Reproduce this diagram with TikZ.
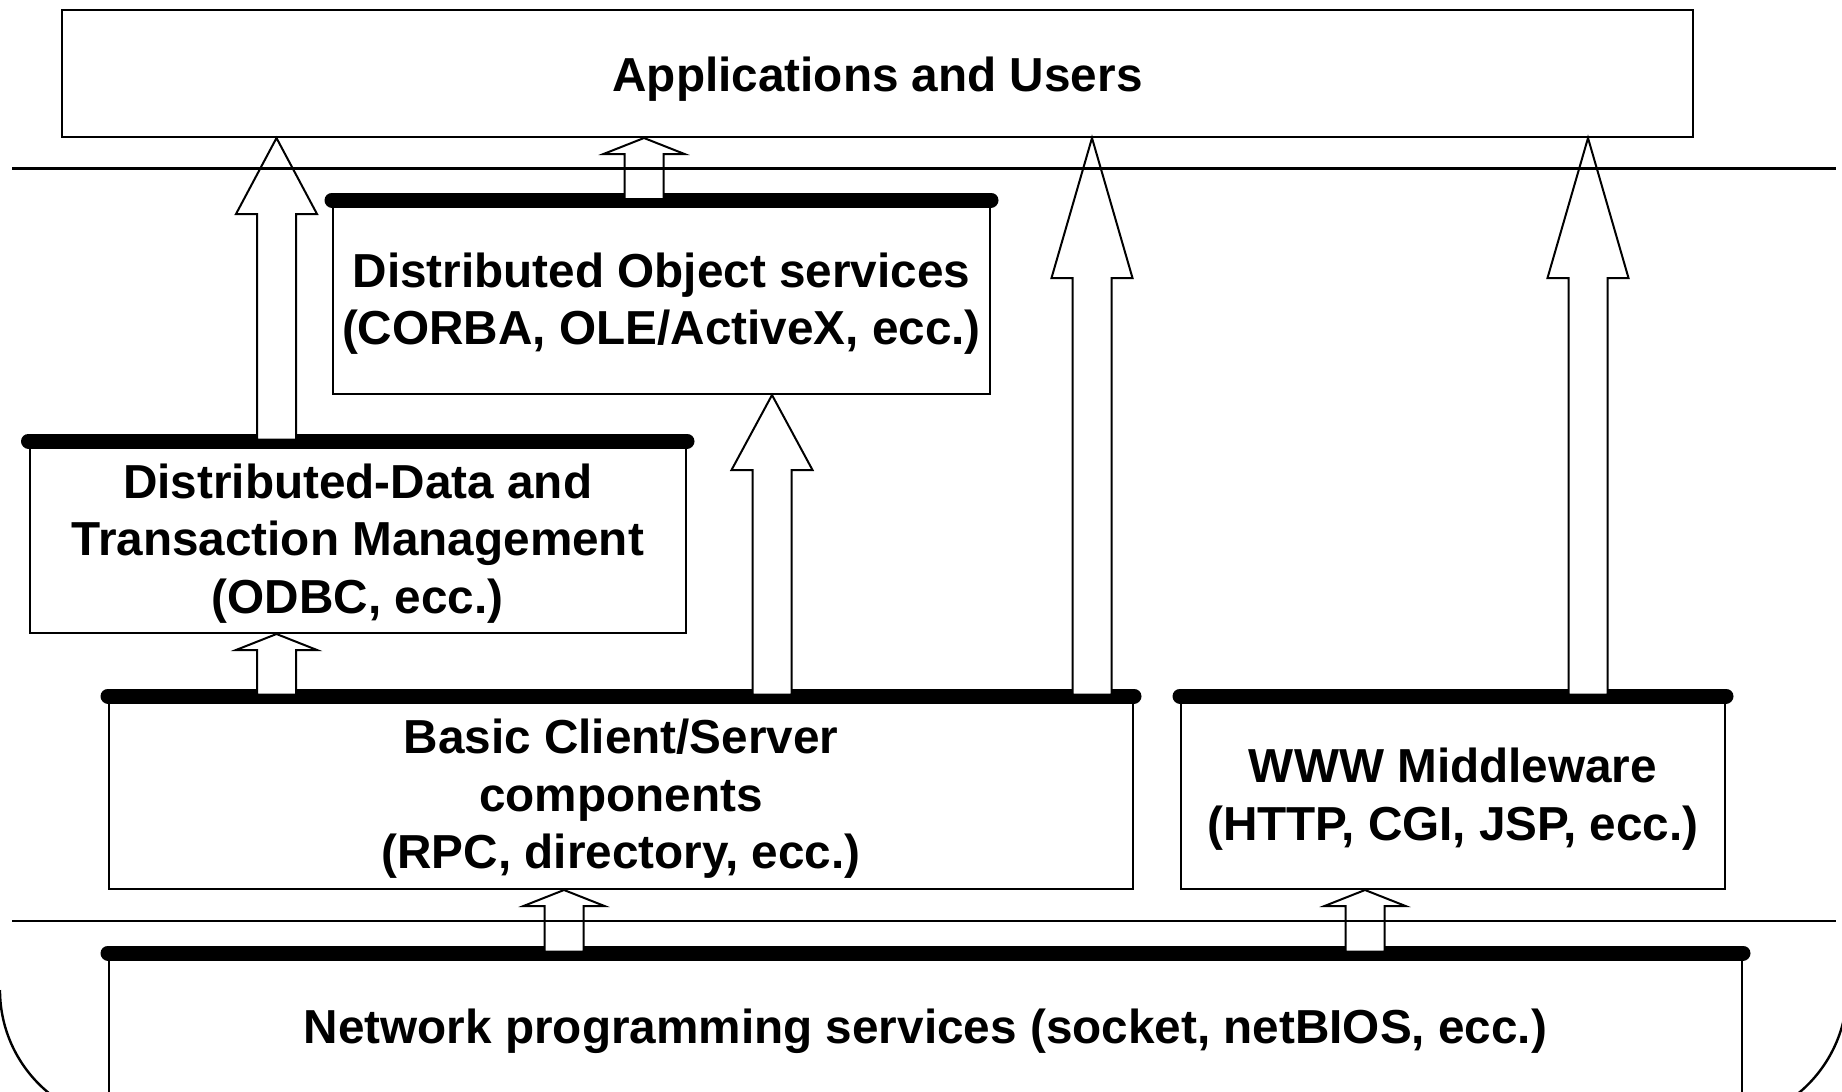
\documentclass[tikz,border=0pt]{standalone}
\usepackage{fontspec}
\setmainfont{Liberation Sans}
\usetikzlibrary{calc}

\newcommand\labelfont{\fontsize{47.7}{57.5}\selectfont\bfseries}

\tikzset{
  layerbox/.style={draw, line width=2pt, inner sep=0pt, align=center,
    anchor=north west, font=\labelfont},
  % text height that sets the labels slightly low in their boxes
  oneline/.style={text height=46.8pt},
  twolines/.style={text height=104.3pt},
  threelines/.style={text height=161.8pt},
  layerbar/.style={line width=15pt, line cap=round},
  sepline/.style={line width=2.4pt},
  hollowarrow/.style={draw, fill=white, line width=2pt, line join=miter},
  rim/.style={line width=2.4pt},
}

% Hollow block arrow pointing up: #1 = foot (sets x and bottom),
% #2 = target (sets the tip height), #3 = length of the head
\newcommand\hollowup[3]{%
  \draw[hollowarrow] let \p1=(#1), \p2=(#2) in
    (\x1-19.5pt,\y1) -- (\x1-19.5pt,\y2-#3) -- (\x1-40.5pt,\y2-#3)
    -- (\x1,\y2) -- (\x1+40.5pt,\y2-#3) -- (\x1+19.5pt,\y2-#3)
    -- (\x1+19.5pt,\y1) -- cycle;
}

\begin{document}
\begin{tikzpicture}[x=1pt,y=-1pt]
\useasboundingbox (0,0) rectangle (1842,1092);
\clip (0,0) rectangle (1842,1092);

% layers
\node[layerbox, oneline, minimum width=1631pt, minimum height=127pt] (app) at (61,9)
  {Applications and Users};
\node[layerbox, twolines, minimum width=657pt, minimum height=193pt] (dos) at (332,200)
  {Distributed Object services\\(CORBA, OLE/ActiveX, ecc.)};
\node[layerbox, threelines, minimum width=656.5pt, minimum height=191pt] (ddtm) at (28.5,441)
  {Distributed-Data and\\Transaction Management\\(ODBC, ecc.)};
\node[layerbox, threelines, minimum width=1024pt, minimum height=192pt] (bcs) at (108,696)
  {Basic Client/Server\\components\\(RPC, directory, ecc.)};
\node[layerbox, twolines, minimum width=544pt, minimum height=192pt] (www) at (1180,696)
  {WWW Middleware\\(HTTP, CGI, JSP, ecc.)};
\node[layerbox, text height=40.8pt, minimum width=1633pt, minimum height=148pt]
  (net) at (108,953)
  {Network programming services (socket, netBIOS, ecc.)};

% heavy top edges of the lower layers
\foreach \b in {dos,ddtm,bcs,www,net}
  \draw[layerbar] (\b.north west) -- (\b.north east);

% hollow arrows between layers
\hollowup{[xshift=248pt,yshift=1.5pt]ddtm.north west}{app.south}{76pt}
\hollowup{[xshift=312pt,yshift=1pt]dos.north west}{app.south}{16pt}
\hollowup{[xshift=664pt,yshift=1.5pt]bcs.north west}{dos.south}{75pt}
\hollowup{[xshift=984pt,yshift=1.5pt]bcs.north west}{app.south}{140pt}
\hollowup{[xshift=408pt,yshift=1.5pt]www.north west}{app.south}{140pt}
\hollowup{[xshift=168.5pt,yshift=1.5pt]bcs.north west}{ddtm.south}{16pt}
\hollowup{[xshift=456pt,yshift=1.5pt]net.north west}{bcs.south}{16pt}
\hollowup{[xshift=1257pt,yshift=1.5pt]net.north west}{www.south}{16pt}

% level separators
\coordinate (s1l) at (12,168.5);  \coordinate (s1r) at (1836,168.5);
\coordinate (s2l) at (12,921);    \coordinate (s2r) at (1836,921);
\draw[sepline] (s1l) -- (s1r);
\draw[sepline] (s2l) -- (s2r);

% rounded rim at the bottom corners
\draw[rim] (0,990) .. controls (0,1063.5) and (59.5,1123) .. (133,1123);
\draw[rim] (1847,990) .. controls (1847,1064) and (1787,1124) .. (1713,1124);
\end{tikzpicture}
\end{document}
